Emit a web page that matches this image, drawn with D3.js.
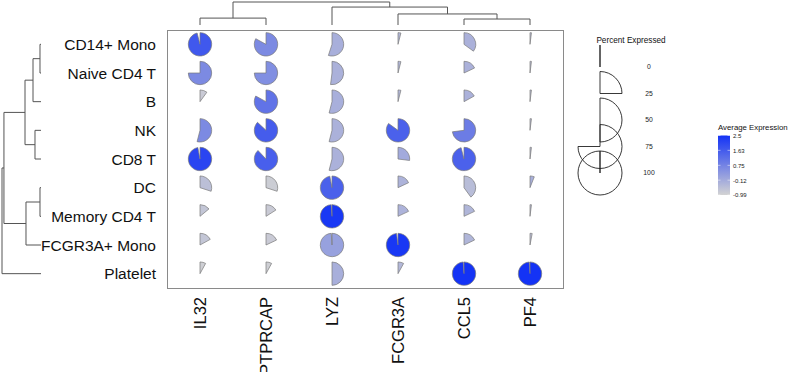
<!DOCTYPE html>
<html>
<head>
<meta charset="utf-8">
<script src="https://cdn.jsdelivr.net/npm/d3@7"></script>
<style>
  html, body { margin: 0; padding: 0; background: #fff; }
  svg { display: block; }
  text { font-family: "Liberation Sans", Arial, Helvetica, sans-serif; }
</style>
</head>
<body>
<svg id="chart" width="797" height="372"></svg>
<script>
// ---------------- data ----------------
const cells = ["CD14+ Mono", "Naive CD4 T", "B", "NK", "CD8 T", "DC", "Memory CD4 T", "FCGR3A+ Mono", "Platelet"];
const genes = ["IL32", "PTPRCAP", "LYZ", "FCGR3A", "CCL5", "PF4"];

// percent expressed, one row per cell type, columns in gene order
const percentExpressed = [
  [96, 83, 55, 4, 35, 2],
  [75, 75, 52, 4, 18, 2],
  [10, 83, 54, 4, 17, 2],
  [54, 87, 54, 85, 73, 2],
  [97, 88, 54, 27, 96, 2],
  [30, 30, 97, 18, 40, 6],
  [14, 16, 99, 18, 18, 2],
  [17, 18, 99, 98, 18, 3],
  [8, 8, 50, 8, 99, 99]
];
// average (scaled) expression
const averageExpression = [
  [1.7, 0.6, -0.2, -0.4, -0.25, -0.6],
  [0.6, 0.5, -0.25, -0.4, -0.25, -0.6],
  [-0.8, 1.1, -0.2, -0.4, -0.25, -0.6],
  [0.6, 1.6, -0.25, 1.5, 0.9, -0.6],
  [2.1, 1.55, -0.25, -0.1, 1.5, -0.6],
  [-0.55, -0.85, 1.5, -0.3, -0.5, -0.2],
  [-0.7, -0.8, 2.4, -0.3, -0.35, -0.6],
  [-0.7, -0.8, 0.1, 2.4, -0.35, -0.6],
  [-0.9, -0.9, -0.2, -0.4, 2.5, 2.5]
];

const pctLegendValues = [0, 25, 50, 75, 100];
const colorLegendTicks = [2.5, 1.63, 0.75, -0.12, -0.99];
const colorLegendLabels = ["2.5", "1.63", "0.75", "-0.12", "-0.99"];

// dendrograms (merge heights, relative)
const rowTree = {h: 1.0, c: [
  {h: 0.95, c: [
    {h: 0.41, c: [
      {h: 0.205, c: [{h: 0.026, c: ["CD14+ Mono", "Naive CD4 T"]}, "B"]},
      {h: 0.154, c: ["NK", "CD8 T"]}
    ]},
    {h: 0.385, c: [{h: 0.026, c: ["DC", "Memory CD4 T"]}, "FCGR3A+ Mono"]}
  ]},
  "Platelet"
]};
const colTree = {h: 1.0, c: [
  {h: 0.30, c: ["IL32", "PTPRCAP"]},
  {h: 0.78, c: ["LYZ", {h: 0.48, c: ["FCGR3A", {h: 0.26, c: ["CCL5", "PF4"]}]}]}
]};

// ---------------- drawing ----------------
const svg = d3.select("#chart");
const panel = {x0: 167, x1: 563, y0: 30, y1: 288};

const x = d3.scaleBand().domain(genes).range([panel.x0, panel.x1]);
const y = d3.scaleBand().domain(cells).range([panel.y0, panel.y1]);
const angle = d3.scaleLinear().domain([0, 100]).range([0, 2 * Math.PI]);
const color = d3.scaleLinear().domain([-0.99, 2.5]).range(["#d3d3d3", "#1433f5"]).clamp(true);
const R = 11.7;

function wedge(r, a) {
  const p = d3.path();
  p.moveTo(0, 0);
  p.lineTo(0, -r);
  if (a > 0) p.arc(0, 0, r, -Math.PI / 2, -Math.PI / 2 + a);
  p.closePath();
  return p.toString();
}

// panel border
svg.append("rect")
  .attr("x", panel.x0 + 0.5).attr("y", panel.y0 + 0.5)
  .attr("width", panel.x1 - panel.x0).attr("height", panel.y1 - panel.y0)
  .attr("fill", "none").attr("stroke", "#8a8a8a").attr("stroke-width", 1);

// pies
const cellsData = [];
cells.forEach((c, i) => genes.forEach((g, j) => {
  cellsData.push({cell: c, gene: g, pct: percentExpressed[i][j], exp: averageExpression[i][j]});
}));
svg.append("g").selectAll("path").data(cellsData).join("path")
  .attr("transform", d => `translate(${x(d.gene) + x.bandwidth() / 2},${y(d.cell) + y.bandwidth() / 2})`)
  .attr("d", d => wedge(R, angle(d.pct)))
  .attr("fill", d => color(d.exp))
  .attr("stroke", "#7a7a7a").attr("stroke-width", 0.7).attr("stroke-linejoin", "round");

// row labels
svg.append("g").selectAll("text").data(cells).join("text")
  .attr("x", 156).attr("y", d => y(d) + y.bandwidth() / 2)
  .attr("dy", "0.36em").attr("text-anchor", "end")
  .attr("font-size", 15.5).attr("fill", "#111").text(d => d);

// column labels (rotated)
svg.append("g").selectAll("text").data(genes).join("text")
  .attr("transform", d => `translate(${x(d) + x.bandwidth() / 2},297) rotate(-90)`)
  .attr("dy", "0.36em").attr("text-anchor", "end")
  .attr("font-size", 16.5).attr("fill", "#111").text(d => d);

// dendrogram drawing
function drawTree(tree, leafPos, hScale, horizontal) {
  const g = svg.append("g").attr("fill", "none").attr("stroke", "#555").attr("stroke-width", 1);
  function layout(n) {
    if (typeof n === "string") return {pos: leafPos(n), h: 0};
    const kids = n.c.map(layout);
    const pos = d3.mean(kids, k => k.pos);
    kids.forEach(k => {
      if (horizontal) g.append("line").attr("x1", hScale(k.h)).attr("x2", hScale(n.h)).attr("y1", k.pos).attr("y2", k.pos);
      else g.append("line").attr("y1", hScale(k.h)).attr("y2", hScale(n.h)).attr("x1", k.pos).attr("x2", k.pos);
    });
    const lo = d3.min(kids, k => k.pos), hi = d3.max(kids, k => k.pos);
    if (horizontal) g.append("line").attr("x1", hScale(n.h)).attr("x2", hScale(n.h)).attr("y1", lo).attr("y2", hi);
    else g.append("line").attr("y1", hScale(n.h)).attr("y2", hScale(n.h)).attr("x1", lo).attr("x2", hi);
    return {pos, h: n.h};
  }
  layout(tree);
}
drawTree(rowTree, d => y(d) + y.bandwidth() / 2, d3.scaleLinear().domain([0, 1]).range([41, 2]), true);
drawTree(colTree, d => x(d) + x.bandwidth() / 2, d3.scaleLinear().domain([0, 1]).range([25, 2]), false);

// percent legend
const lg = svg.append("g");
lg.append("text").attr("x", 631).attr("y", 43).attr("text-anchor", "middle")
  .attr("font-size", 8.2).attr("fill", "#111").text("Percent Expressed");
const ly = d3.scalePoint().domain(pctLegendValues).range([67, 173]);
lg.selectAll("path").data(pctLegendValues).join("path")
  .attr("transform", d => `translate(600,${ly(d)})`)
  .attr("d", d => wedge(22, angle(d)))
  .attr("fill", "none").attr("stroke", "#222").attr("stroke-width", 0.9);
lg.selectAll("text.lab").data(pctLegendValues).join("text").attr("class", "lab")
  .attr("x", 649).attr("y", d => ly(d)).attr("dy", "0.36em").attr("text-anchor", "middle")
  .attr("font-size", 6.8).attr("fill", "#222").text(d => d);

// color legend
const cg = svg.append("g");
cg.append("text").attr("x", 718).attr("y", 129.5).attr("font-size", 7.8).attr("fill", "#111").text("Average Expression");
const defs = svg.append("defs");
const grad = defs.append("linearGradient").attr("id", "expGrad").attr("x1", 0).attr("y1", 1).attr("x2", 0).attr("y2", 0);
d3.range(0, 1.001, 0.1).forEach(t => {
  grad.append("stop").attr("offset", t).attr("stop-color", color(-0.99 + t * 3.49));
});
const cy = d3.scaleLinear().domain([-0.99, 2.5]).range([195, 135.5]);
cg.append("rect").attr("x", 718).attr("y", cy(2.5)).attr("width", 12).attr("height", cy(-0.99) - cy(2.5))
  .attr("fill", "url(#expGrad)");
cg.selectAll("line").data(colorLegendTicks).join("line")
  .attr("x1", 718).attr("x2", 730).attr("y1", d => cy(d)).attr("y2", d => cy(d))
  .attr("stroke", "#fff").attr("stroke-width", 0.5).attr("stroke-dasharray", "2.5,7");
cg.selectAll("text.tk").data(colorLegendTicks).join("text").attr("class", "tk")
  .attr("x", 733).attr("y", d => cy(d)).attr("dy", "0.4em")
  .attr("font-size", 6).attr("fill", "#222").text((d, i) => colorLegendLabels[i]);
</script>
</body>
</html>
